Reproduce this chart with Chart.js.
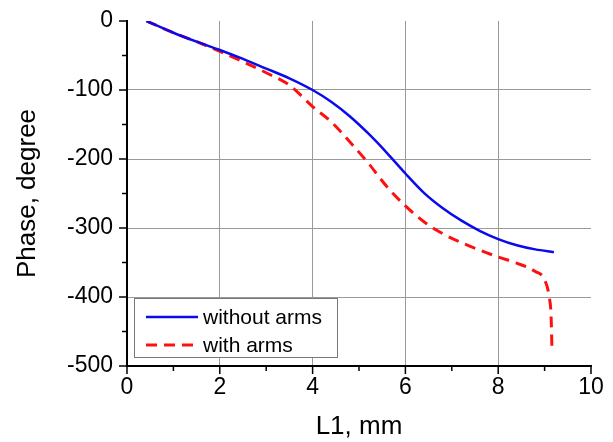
<!DOCTYPE html>
<html>
<head>
<meta charset="utf-8">
<script src="https://cdn.jsdelivr.net/npm/chart.js@4"></script>
<style>
  html, body { margin: 0; padding: 0; background: #fff; }
  #wrap { width: 613px; height: 442px; }
</style>
</head>
<body>
<div id="wrap"><canvas id="phaseChart" width="613" height="442"></canvas></div>
<script>
// Data
const withoutArmsX = [0.42, 1.0, 1.5, 2.0, 2.5, 3.0, 3.5, 4.0, 4.4, 4.8, 5.2, 5.6, 6.0, 6.4, 6.8, 7.2, 7.6, 8.0, 8.4, 8.8, 9.2];
const withoutArmsY = [0, -17, -30, -42, -55, -69, -83, -100, -117, -138, -163, -191, -221, -249, -271, -289, -304, -316, -325, -331, -335];

const withArmsX = [0.42, 1.0, 1.5, 2.0, 2.5, 3.0, 3.5, 4.0, 4.4, 4.8, 5.2, 5.6, 6.0, 6.4, 6.8, 7.2, 7.6, 8.0, 8.4, 8.8, 9.0, 9.1, 9.14, 9.16];
const withArmsY = [0, -17, -30, -44, -59, -75, -93, -124, -146, -175, -206, -240, -268, -291, -308, -321, -332, -342, -351, -363, -375, -400, -428, -479];

const seriesLabels = ["without arms", "with arms"];
const xTitle = "L1, mm";
const yTitle = "Phase, degree";

const toPoints = (xs, ys) => xs.map((x, i) => ({ x: x, y: ys[i] }));

const FONT = "'Liberation Sans', Arial, sans-serif";

// minor + major ticks drawn outward, and the legend box inside the plot
const axisDecor = {
  id: "axisDecor",
  afterDraw(chart) {
    const ctx = chart.ctx;
    const xs = chart.scales.x;
    const ys = chart.scales.y;
    const area = chart.chartArea;
    ctx.save();
    ctx.strokeStyle = "#000";
    ctx.lineWidth = 1.5;
    for (let v = 0; v <= 10; v += 1) {
      const px = xs.getPixelForValue(v);
      const len = v % 2 === 0 ? 8 : 5;
      ctx.beginPath();
      ctx.moveTo(px, area.bottom);
      ctx.lineTo(px, area.bottom + len);
      ctx.stroke();
    }
    for (let v = 0; v >= -500; v -= 50) {
      const py = ys.getPixelForValue(v);
      const len = v % 100 === 0 ? 8 : 5;
      ctx.beginPath();
      ctx.moveTo(area.left, py);
      ctx.lineTo(area.left - len, py);
      ctx.stroke();
    }

    // legend
    const lx = 134, ly = 298, lw = 203, lh = 59;
    ctx.fillStyle = "#fff";
    ctx.fillRect(lx, ly, lw, lh);
    ctx.strokeStyle = "#777";
    ctx.lineWidth = 1;
    ctx.strokeRect(lx + 0.5, ly + 0.5, lw, lh);
    const ds = chart.data.datasets;
    const rows = [ly + 19, ly + 47];
    ds.forEach((d, i) => {
      ctx.strokeStyle = d.borderColor;
      ctx.lineWidth = d.borderWidth;
      ctx.setLineDash(d.borderDash || []);
      ctx.beginPath();
      ctx.moveTo(lx + 12, rows[i]);
      ctx.lineTo(lx + 64, rows[i]);
      ctx.stroke();
      ctx.setLineDash([]);
      ctx.fillStyle = "#000";
      ctx.font = "21px " + FONT;
      ctx.textBaseline = "middle";
      ctx.textAlign = "left";
      ctx.fillText(d.label, lx + 69, rows[i] + 1);
    });
    ctx.restore();
  },
};

const ctx = document.getElementById("phaseChart").getContext("2d");
new Chart(ctx, {
  type: "line",
  data: {
    datasets: [
      {
        label: seriesLabels[0],
        data: toPoints(withoutArmsX, withoutArmsY),
        borderColor: "#0a0aee",
        borderWidth: 2.5,
        pointRadius: 0,
        cubicInterpolationMode: "monotone",
        fill: false,
      },
      {
        label: seriesLabels[1],
        data: toPoints(withArmsX, withArmsY),
        borderColor: "#ff1010",
        borderWidth: 3,
        borderDash: [11, 7],
        pointRadius: 0,
        cubicInterpolationMode: "monotone",
        fill: false,
      },
    ],
  },
  options: {
    responsive: false,
    animation: false,
    layout: { padding: { left: 0, right: 22, top: 21, bottom: 0 } },
    plugins: {
      legend: { display: false },
      tooltip: { enabled: false },
    },
    scales: {
      x: {
        type: "linear",
        min: 0,
        max: 10,
        border: { color: "#000", width: 2 },
        grid: {
          drawTicks: false,
          color: (c) => (c.tick && c.tick.value > 0 && c.tick.value < 10 ? "#9a9a9a" : "rgba(0,0,0,0)"),
          lineWidth: 1,
        },
        ticks: {
          stepSize: 2,
          color: "#000",
          font: { family: FONT, size: 23 },
          padding: 8,
          maxRotation: 0,
        },
        title: {
          display: true,
          text: xTitle,
          color: "#000",
          font: { family: FONT, size: 26 },
          padding: { top: 14, bottom: 0 },
        },
        afterFit: (scale) => { scale.height = 76; },
      },
      y: {
        type: "linear",
        min: -500,
        max: 0,
        border: { color: "#000", width: 2 },
        grid: {
          drawTicks: false,
          color: (c) => (c.tick && c.tick.value < 0 && c.tick.value > -500 ? "#9a9a9a" : "rgba(0,0,0,0)"),
          lineWidth: 1,
        },
        ticks: {
          stepSize: 100,
          color: "#000",
          font: { family: FONT, size: 23 },
          padding: 14,
        },
        title: {
          display: true,
          text: yTitle,
          color: "#000",
          font: { family: FONT, size: 26 },
          padding: { top: 12, bottom: 6 },
        },
        afterFit: (scale) => {
          scale.width = 127;
          scale.paddingTop = 0;
          scale.paddingBottom = 0;
        },
      },
    },
  },
  plugins: [axisDecor],
});
</script>
</body>
</html>
